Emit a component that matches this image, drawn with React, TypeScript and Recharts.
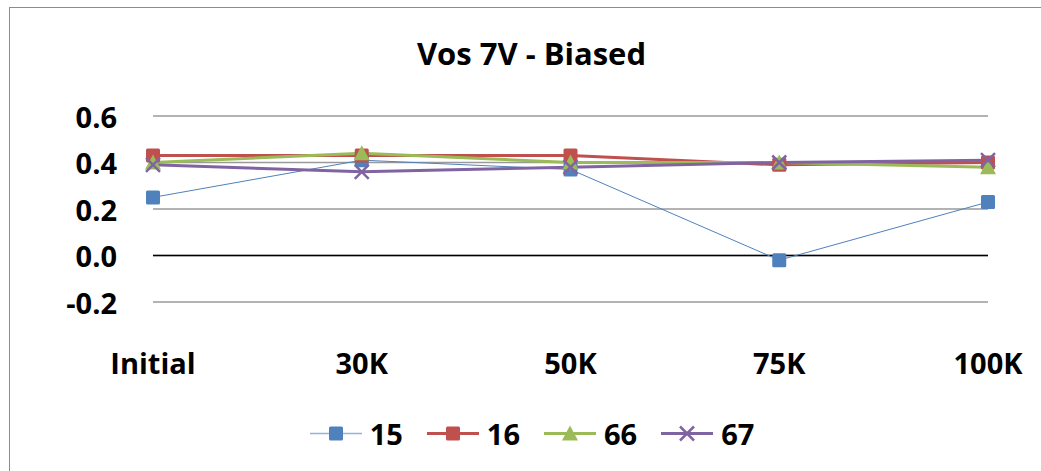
import React from "react";
import { LineChart, Line, XAxis, YAxis, CartesianGrid, ReferenceLine } from "recharts";

// chart values
const categories = ["Initial", "30K", "50K", "75K", "100K"];
const s15 = [0.25, 0.41, 0.37, -0.02, 0.23];
const s16 = [0.43, 0.43, 0.43, 0.39, 0.4];
const s66 = [0.4, 0.44, 0.4, 0.4, 0.38];
const s67 = [0.39, 0.36, 0.38, 0.4, 0.41];
const yTicks = [-0.2, 0, 0.2, 0.4, 0.6];

type Marker = "square" | "triangle" | "cross";

type Series = {
  key: string;
  name: string;
  color: string;
  width: number;
  marker: Marker;
};

const SERIES: Series[] = [
  { key: "s15", name: "15", color: "#4F81BD", width: 1, marker: "square" },
  { key: "s16", name: "16", color: "#C0504D", width: 3, marker: "square" },
  { key: "s66", name: "66", color: "#9BBB59", width: 3, marker: "triangle" },
  { key: "s67", name: "67", color: "#8064A2", width: 3, marker: "cross" },
];

const data = categories.map((name, i) => ({
  name,
  s15: s15[i],
  s16: s16[i],
  s66: s66[i],
  s67: s67[i],
}));

const FONT = "'Open Sans', Lato, sans-serif";
const FS = 29;

function drawMarker(kind: Marker, color: string, cx: number, cy: number, size: number) {
  const h = size / 2;
  if (kind === "square") {
    return <rect x={cx - h} y={cy - h} width={size} height={size} rx={1.5} fill={color} />;
  }
  if (kind === "triangle") {
    return (
      <polygon
        points={`${cx},${cy - h - 1} ${cx + h + 1},${cy + h} ${cx - h - 1},${cy + h}`}
        fill={color}
      />
    );
  }
  return (
    <g stroke={color} strokeWidth={2.5}>
      <line x1={cx - h} y1={cy - h} x2={cx + h} y2={cy + h} />
      <line x1={cx - h} y1={cy + h} x2={cx + h} y2={cy - h} />
    </g>
  );
}

const makeDot = (s: Series) => (props: any) => {
  const { cx, cy, index } = props;
  if (cx == null || cy == null) return <g key={`${s.key}-${index}`} />;
  return <g key={`${s.key}-${index}`}>{drawMarker(s.marker, s.color, cx, cy, 14)}</g>;
};

const YTick = (props: any) => {
  const { y, payload } = props;
  return (
    <text
      x={117}
      y={y}
      textAnchor="end"
      dominantBaseline="central"
      fontFamily={FONT}
      fontWeight={700}
      fontSize={FS}
      fill="#000"
    >
      {Number(payload.value).toFixed(1)}
    </text>
  );
};

const XTick = (props: any) => {
  const { x, payload } = props;
  return (
    <text
      x={x}
      y={362}
      textAnchor="middle"
      dominantBaseline="central"
      fontFamily={FONT}
      fontWeight={700}
      fontSize={FS}
      fill="#000"
    >
      {payload.value}
    </text>
  );
};

export default function App() {
  return (
    <div
      style={{
        position: "absolute",
        left: 0,
        top: 0,
        width: 1041,
        height: 471,
        background: "#fff",
        overflow: "hidden",
      }}
    >
      <div
        style={{
          position: "absolute",
          left: 9,
          top: 7,
          width: 1100,
          height: 500,
          borderTop: "1.5px solid #8c8c8c",
          borderLeft: "1.5px solid #8c8c8c",
        }}
      />
      <div
        style={{
          position: "absolute",
          top: 53,
          left: 0,
          width: 1063,
          textAlign: "center",
          transform: "translateY(-50%)",
          fontFamily: FONT,
          fontWeight: 700,
          fontSize: 31,
          color: "#000",
        }}
      >
        Vos 7V - Biased
      </div>
      <div style={{ position: "absolute", left: 0, top: 0 }}>
        <LineChart
          width={1041}
          height={471}
          data={data}
          margin={{ top: 116, right: 53, bottom: 0, left: 0 }}
        >
          <CartesianGrid vertical={false} stroke="#9a9a9a" strokeWidth={1.5} />
          <XAxis
            dataKey="name"
            height={169}
            axisLine={false}
            tickLine={false}
            tick={<XTick />}
            interval={0}
          />
          <YAxis
            width={153}
            domain={[-0.2, 0.6]}
            ticks={yTicks}
            axisLine={false}
            tickLine={false}
            tick={<YTick />}
            allowDataOverflow
          />
          <ReferenceLine y={0} stroke="#000" strokeWidth={1.5} />
          {SERIES.map((s) => (
            <Line
              key={s.key}
              dataKey={s.key}
              name={s.name}
              stroke={s.color}
              strokeWidth={s.width}
              dot={makeDot(s)}
              activeDot={false}
              isAnimationActive={false}
            />
          ))}
        </LineChart>
      </div>
      <div
        style={{
          position: "absolute",
          top: 433,
          left: 2,
          width: 1060,
          display: "flex",
          justifyContent: "center",
          alignItems: "center",
          transform: "translateY(-50%)",
          fontFamily: FONT,
          fontWeight: 700,
          fontSize: FS,
        }}
      >
        {SERIES.map((s, i) => (
          <div
            key={s.key}
            style={{ display: "flex", alignItems: "center", marginRight: i < SERIES.length - 1 ? 24 : 0 }}
          >
            <svg width={52} height={20} style={{ marginRight: 8 }}>
              <line
                x1={0}
                y1={10}
                x2={52}
                y2={10}
                stroke={s.key === "s15" ? "#95B3D7" : s.color}
                strokeWidth={s.key === "s15" ? 1.5 : 3}
              />
              {drawMarker(s.marker, s.color, 26, 10, 14)}
            </svg>
            <span>{s.name}</span>
          </div>
        ))}
      </div>
    </div>
  );
}
